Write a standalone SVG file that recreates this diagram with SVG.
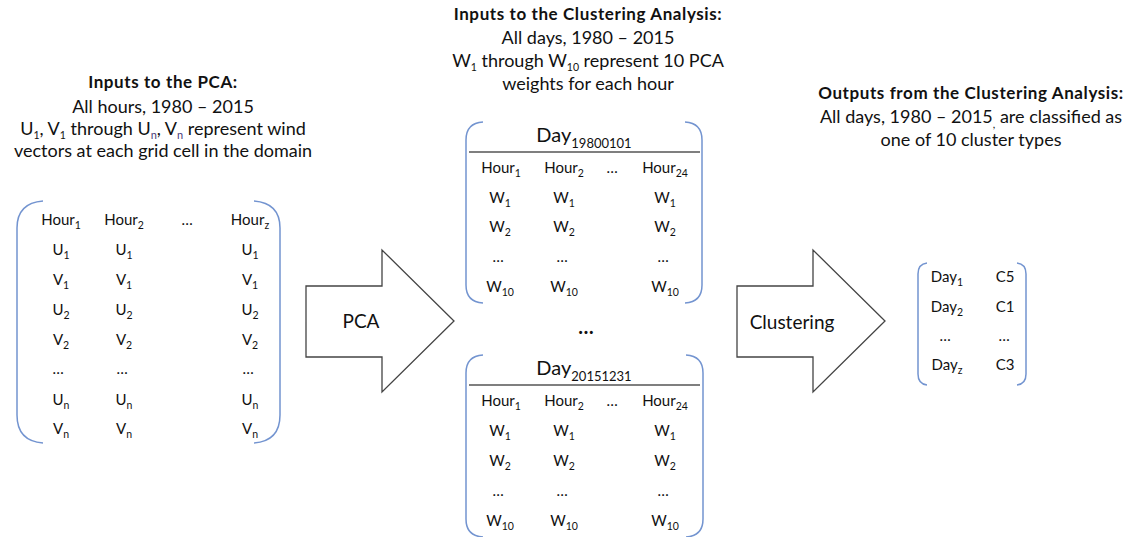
<svg xmlns="http://www.w3.org/2000/svg" width="1129" height="537" viewBox="0 0 1129 537">
  <style>
    text { font-family: Lato, "Liberation Sans", sans-serif; fill: #111; }
    .h { font-size: 17px; font-weight: bold; text-anchor: middle; letter-spacing: 0.6px; }
    .t { font-size: 18px; text-anchor: middle; }
    .c { font-size: 15px; text-anchor: middle; }
    .day { font-size: 20px; text-anchor: middle; }
    .lbl { font-size: 19px; text-anchor: middle; }
    .s { font-size: 10.5px; baseline-shift: -4px; }
    .sd { font-size: 13px; baseline-shift: -6px; }
    .sp { font-size: 11px; baseline-shift: -4px; fill: #4a3a7a; }
    .br { fill: none; stroke: #7394d0; stroke-width: 1.5; }
    .arrow { fill: #fff; stroke: #444; stroke-width: 1.3; }
    .rule { stroke: #555; stroke-width: 1.5; }
  </style>

  <!-- Left: PCA input description and wind matrix -->
  <g id="pca-inputs">
    <text class="h" x="163" y="88">Inputs to the PCA:</text>
    <text class="t" x="163" y="113">All hours, 1980 – 2015</text>
    <text class="t" x="163" y="135">U<tspan class="s">1</tspan>, V<tspan class="s">1</tspan> through U<tspan class="sp">n</tspan>, V<tspan class="sp">n</tspan> represent wind</text>
    <text class="t" x="163" y="157">vectors at each grid cell in the domain</text>
  </g>

  <g id="wind-matrix">
    <path class="br" d="M43,201 Q17,203 17,228 V415 Q17,441 43,443"/>
    <path class="br" d="M254,201 Q280,203 280,228 V415 Q280,441 254,443"/>
    <g class="cells">
      <text class="c" x="61" y="225">Hour<tspan class="s">1</tspan></text>
      <text class="c" x="124" y="225">Hour<tspan class="s">2</tspan></text>
      <text class="c" x="187" y="225">…</text>
      <text class="c" x="250" y="225">Hour<tspan class="s">z</tspan></text>

      <text class="c" x="61" y="255">U<tspan class="s">1</tspan></text>
      <text class="c" x="124" y="255">U<tspan class="s">1</tspan></text>
      <text class="c" x="250" y="255">U<tspan class="s">1</tspan></text>

      <text class="c" x="61" y="285">V<tspan class="s">1</tspan></text>
      <text class="c" x="124" y="285">V<tspan class="s">1</tspan></text>
      <text class="c" x="250" y="285">V<tspan class="s">1</tspan></text>

      <text class="c" x="61" y="315">U<tspan class="s">2</tspan></text>
      <text class="c" x="124" y="315">U<tspan class="s">2</tspan></text>
      <text class="c" x="250" y="315">U<tspan class="s">2</tspan></text>

      <text class="c" x="61" y="345">V<tspan class="s">2</tspan></text>
      <text class="c" x="124" y="345">V<tspan class="s">2</tspan></text>
      <text class="c" x="250" y="345">V<tspan class="s">2</tspan></text>

      <text class="c" x="58" y="374">…</text>
      <text class="c" x="122" y="374">…</text>
      <text class="c" x="248" y="374">…</text>

      <text class="c" x="61" y="405">U<tspan class="s">n</tspan></text>
      <text class="c" x="124" y="405">U<tspan class="s">n</tspan></text>
      <text class="c" x="250" y="405">U<tspan class="s">n</tspan></text>

      <text class="c" x="61" y="434">V<tspan class="s">n</tspan></text>
      <text class="c" x="124" y="434">V<tspan class="s">n</tspan></text>
      <text class="c" x="250" y="434">V<tspan class="s">n</tspan></text>
    </g>
  </g>

  <!-- Block arrows between stages -->
  <g id="connectors">
    <g id="pca-arrow">
      <path class="arrow" d="M306,286 H382 V250 L454,321 L382,392 V357 H306 Z"/>
      <text class="lbl" x="361" y="328">PCA</text>
    </g>
    <g id="clustering-arrow">
      <path class="arrow" d="M737,286 H813 V250 L885,321 L813,392 V357 H737 Z"/>
      <text class="lbl" x="792" y="329">Clustering</text>
    </g>
  </g>

  <!-- Middle: clustering input description and daily weight matrices -->
  <g id="clustering-inputs">
    <text class="h" x="588" y="20">Inputs to the Clustering Analysis:</text>
    <text class="t" x="588" y="44">All days, 1980 – 2015</text>
    <text class="t" x="588" y="67">W<tspan class="s">1</tspan> through W<tspan class="s">10</tspan> represent 10 PCA</text>
    <text class="t" x="588" y="90">weights for each hour</text>
  </g>

  <g id="day-first">
    <path class="br" d="M483,122 Q466,123 466,140 V285 Q466,302 483,303"/>
    <path class="br" d="M685,122 Q702,123 702,140 V285 Q702,302 685,303"/>
    <line class="rule" x1="469" y1="152" x2="700" y2="152"/>
    <text class="day" x="584" y="142">Day<tspan class="sd">19800101</tspan></text>
    <text class="c" x="501" y="173">Hour<tspan class="s">1</tspan></text>
    <text class="c" x="564" y="173">Hour<tspan class="s">2</tspan></text>
    <text class="c" x="612" y="173">…</text>
    <text class="c" x="665" y="173">Hour<tspan class="s">24</tspan></text>
    <text class="c" x="500" y="203">W<tspan class="s">1</tspan></text>
    <text class="c" x="564" y="203">W<tspan class="s">1</tspan></text>
    <text class="c" x="665" y="203">W<tspan class="s">1</tspan></text>
    <text class="c" x="500" y="232">W<tspan class="s">2</tspan></text>
    <text class="c" x="564" y="232">W<tspan class="s">2</tspan></text>
    <text class="c" x="665" y="232">W<tspan class="s">2</tspan></text>
    <text class="c" x="498" y="262">…</text>
    <text class="c" x="562" y="262">…</text>
    <text class="c" x="663" y="262">…</text>
    <text class="c" x="500" y="292">W<tspan class="s">10</tspan></text>
    <text class="c" x="564" y="292">W<tspan class="s">10</tspan></text>
    <text class="c" x="665" y="292">W<tspan class="s">10</tspan></text>
  </g>

  <text id="days-ellipsis" class="day" x="586" y="334" font-weight="bold">…</text>

  <g id="day-last">
    <path class="br" d="M483,355 Q466,356 466,373 V519 Q466,536 483,537"/>
    <path class="br" d="M686,355 Q703,356 703,373 V519 Q703,536 686,537"/>
    <line class="rule" x1="469" y1="385" x2="700" y2="385"/>
    <text class="day" x="584" y="375">Day<tspan class="sd">20151231</tspan></text>
    <text class="c" x="501" y="406">Hour<tspan class="s">1</tspan></text>
    <text class="c" x="564" y="406">Hour<tspan class="s">2</tspan></text>
    <text class="c" x="612" y="406">…</text>
    <text class="c" x="665" y="406">Hour<tspan class="s">24</tspan></text>
    <text class="c" x="500" y="436">W<tspan class="s">1</tspan></text>
    <text class="c" x="564" y="436">W<tspan class="s">1</tspan></text>
    <text class="c" x="665" y="436">W<tspan class="s">1</tspan></text>
    <text class="c" x="500" y="466">W<tspan class="s">2</tspan></text>
    <text class="c" x="564" y="466">W<tspan class="s">2</tspan></text>
    <text class="c" x="665" y="466">W<tspan class="s">2</tspan></text>
    <text class="c" x="498" y="496">…</text>
    <text class="c" x="562" y="496">…</text>
    <text class="c" x="663" y="496">…</text>
    <text class="c" x="500" y="526">W<tspan class="s">10</tspan></text>
    <text class="c" x="564" y="526">W<tspan class="s">10</tspan></text>
    <text class="c" x="665" y="526">W<tspan class="s">10</tspan></text>
  </g>

  <!-- Right: clustering output description and day/cluster table -->
  <g id="clustering-outputs">
    <text class="h" x="971" y="99">Outputs from the Clustering Analysis:</text>
    <text class="t" x="971" y="123">All days, 1980 – 2015<tspan font-size="11" baseline-shift="-5px">,</tspan> are classified as</text>
    <text class="t" x="971" y="146">one of 10 cluster types</text>
  </g>

  <g id="cluster-table">
    <path class="br" d="M927,263 Q918,264 918,274 V374 Q918,384 927,385"/>
    <path class="br" d="M1017,263 Q1026,264 1026,274 V374 Q1026,384 1017,385"/>
    <text class="c" x="947" y="282">Day<tspan class="s">1</tspan></text>
    <text class="c" x="1005" y="282">C5</text>
    <text class="c" x="947" y="312">Day<tspan class="s">2</tspan></text>
    <text class="c" x="1005" y="312">C1</text>
    <text class="c" x="945" y="341">…</text>
    <text class="c" x="1004" y="341">…</text>
    <text class="c" x="947" y="370">Day<tspan class="s">z</tspan></text>
    <text class="c" x="1005" y="370">C3</text>
  </g>
</svg>
